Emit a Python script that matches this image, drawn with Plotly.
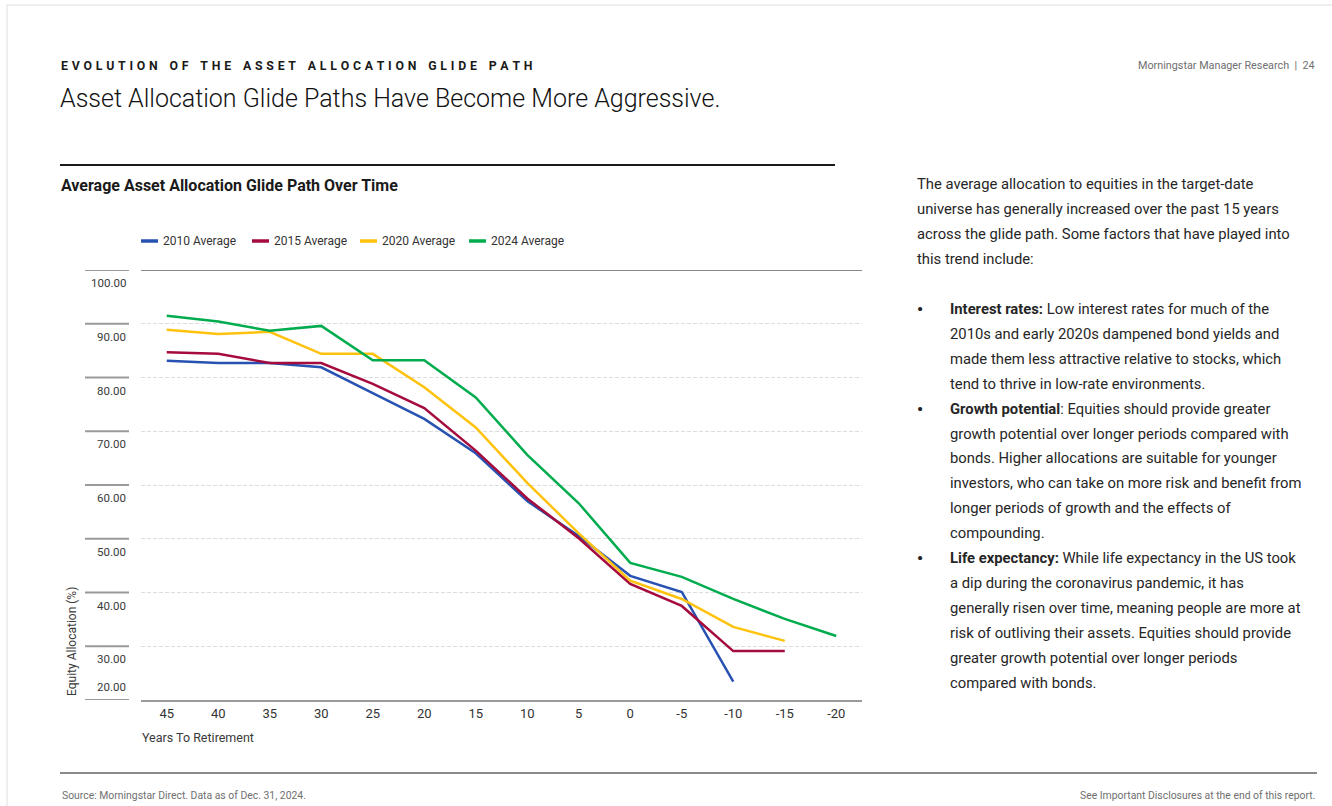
import plotly.graph_objects as go

W, H = 1332, 806

# ---- data -------------------------------------------------------------
YEARS_TO_RETIREMENT = ["45", "40", "35", "30", "25", "20", "15", "10",
                       "5", "0", "-5", "-10", "-15", "-20"]

AVG_2010 = [83.1, 82.7, 82.7, 81.9, 77.1, 72.3, 65.9, 57.0, 50.5, 43.1, 40.1, 23.4]
AVG_2015 = [84.7, 84.4, 82.7, 82.7, 78.8, 74.3, 66.4, 57.5, 50.1, 41.6, 37.5, 29.1, 29.1]
AVG_2020 = [88.9, 88.1, 88.5, 84.4, 84.4, 78.2, 70.7, 60.4, 51.0, 42.2, 38.8, 33.6, 31.0]
AVG_2024 = [91.5, 90.4, 88.7, 89.6, 83.2, 83.2, 76.3, 65.6, 56.6, 45.5, 42.9, 38.8, 35.1, 31.9]

SERIES_NAMES = ["2010 Average", "2015 Average", "2020 Average", "2024 Average"]
SERIES_VALUES = [AVG_2010, AVG_2015, AVG_2020, AVG_2024]
SERIES_COLORS = ["#2852B2", "#A50B3C", "#FFC20E", "#00AC4E"]

Y_TICKS = [20, 30, 40, 50, 60, 70, 80, 90, 100]

FONT = "Roboto, sans-serif"


def px(x):
    return x / W


def py(y):
    return 1 - y / H


fig = go.Figure()
for name, vals, color in zip(SERIES_NAMES, SERIES_VALUES, SERIES_COLORS):
    fig.add_trace(go.Scatter(
        x=YEARS_TO_RETIREMENT[:len(vals)], y=vals, name=name, mode="lines",
        line=dict(color=color, width=2.5), showlegend=False,
    ))

shapes = []
ann = []


def text(x, y, s, size, color="#222", xanchor="left", yanchor="middle", weight=None, **kw):
    font = dict(family=FONT, size=size, color=color)
    if weight:
        font["weight"] = weight
    ann.append(dict(xref="paper", yref="paper", x=px(x), y=py(y), text=s, showarrow=False,
                    xanchor=xanchor, yanchor=yanchor, font=font, **kw))


# solid line at the top of the value range
shapes.append(dict(type="line", xref="x domain", x0=0, x1=1, yref="y", y0=100, y1=100,
                   line=dict(color="#8a8a8a", width=2)))
# short tick stubs beside the value labels
for v in Y_TICKS:
    shapes.append(dict(type="line", xref="paper", x0=px(85), x1=px(129), yref="y", y0=v, y1=v,
                       line=dict(color="#9a9a9a", width=2)))
# page frame
shapes.append(dict(type="line", xref="paper", yref="paper", x0=px(7), x1=1, y0=py(5), y1=py(5),
                   line=dict(color="#dedede", width=1)))
shapes.append(dict(type="line", xref="paper", yref="paper", x0=px(7), x1=px(7), y0=0, y1=py(5),
                   line=dict(color="#dedede", width=1)))
# rule above the chart title and footer rule
shapes.append(dict(type="line", xref="paper", yref="paper", x0=px(60), x1=px(835), y0=py(165), y1=py(165),
                   line=dict(color="#1a1a1a", width=2)))
shapes.append(dict(type="line", xref="paper", yref="paper", x0=px(60), x1=px(1317), y0=py(773), y1=py(773),
                   line=dict(color="#8a8a8a", width=2)))

# compact legend: short colour swatch followed by the series name
LEGEND_X = [141, 252, 360, 469]
for lx, name, color in zip(LEGEND_X, SERIES_NAMES, SERIES_COLORS):
    shapes.append(dict(type="line", xref="paper", yref="paper", x0=px(lx), x1=px(lx + 17),
                       y0=py(241), y1=py(241), line=dict(color=color, width=3.5)))
    text(lx + 20, 241, name, 12, "#333")

# value labels sit just inside each band
for v in Y_TICKS:
    ann.append(dict(xref="paper", yref="y", x=px(128), y=(v + 2.5 if v == 20 else v - 2.45),
                    text=f"{v:.2f}", showarrow=False, xanchor="right", yanchor="middle",
                    font=dict(family=FONT, size=11.5, color="#3a3a3a")))

# axis titles
ann.append(dict(xref="paper", yref="paper", x=px(72), y=py(642), text="Equity Allocation (%)",
                textangle=-90, showarrow=False, xanchor="center", yanchor="middle",
                font=dict(family=FONT, size=12, color="#3a3a3a")))
text(140, 737, "Years To Retirement", 12.5, "#3a3a3a")

# page header
eyebrow = "EVOLUTION OF THE ASSET ALLOCATION GLIDE PATH"
gap = "\u2009\u200a"
spaced = (" " + gap).join(gap.join(w) for w in eyebrow.split(" "))
spaced = spaced.replace(" ", "\u2009 \u2009")
text(59, 66, f"<b>{spaced}</b>", 12.3, "#1a1a1a")
text(58, 98, "Asset Allocation Glide Paths Have Become More Aggressive.", 25, "#111", weight=300)
text(1317, 65, "Morningstar Manager Research  |  24", 10.8, "#6f6f6f", xanchor="right")

# chart title
text(59, 185, "<b>Average Asset Allocation Glide Path Over Time</b>", 16, "#1a1a1a")

# commentary column
BODY = [
    (None, "The average allocation to equities in the target-date"),
    (None, "universe has generally increased over the past 15 years"),
    (None, "across the glide path. Some factors that have played into"),
    (None, "this trend include:"),
    (None, ""),
    ("•", "<b>Interest rates:</b> Low interest rates for much of the"),
    (None, "2010s and early 2020s dampened bond yields and"),
    (None, "made them less attractive relative to stocks, which"),
    (None, "tend to thrive in low-rate environments."),
    ("•", "<b>Growth potential</b>: Equities should provide greater"),
    (None, "growth potential over longer periods compared with"),
    (None, "bonds. Higher allocations are suitable for younger"),
    (None, "investors, who can take on more risk and benefit from"),
    (None, "longer periods of growth and the effects of"),
    (None, "compounding."),
    ("•", "<b>Life expectancy:</b> While life expectancy in the US took"),
    (None, "a dip during the coronavirus pandemic, it has"),
    (None, "generally risen over time, meaning people are more at"),
    (None, "risk of outliving their assets. Equities should provide"),
    (None, "greater growth potential over longer periods"),
    (None, "compared with bonds."),
]
y0 = 184
in_list = False
for i, (bullet, line) in enumerate(BODY):
    y = y0 + i * 24.95
    if bullet:
        in_list = True
        text(915, y, "<b>•</b>", 17, "#222")
    if line:
        text(948 if in_list else 915, y, line, 14.8, "#262626")

# footer
text(60, 795, "Source: Morningstar Direct. Data as of Dec. 31, 2024.", 10.4, "#6f6f6f")
text(1317, 795, "See Important Disclosures at the end of this report.", 10.4, "#6f6f6f", xanchor="right")

fig.update_layout(
    width=W, height=H, autosize=False,
    margin=dict(l=0, r=0, t=0, b=0),
    paper_bgcolor="white", plot_bgcolor="white",
    font=dict(family=FONT, size=13, color="#333"),
    showlegend=False,
    xaxis=dict(domain=[px(141), px(862)], type="category", range=[-0.5, 13.5],
               showline=True, linecolor="#9a9a9a", linewidth=2, ticks="",
               showgrid=False, zeroline=False, tickfont=dict(size=13, color="#333"),
               fixedrange=True),
    yaxis=dict(domain=[py(700), py(270)], range=[20, 100], tickvals=Y_TICKS[1:-1],
               showticklabels=False, showgrid=True, gridcolor="#dcdcdc", gridwidth=1,
               griddash="4px,2px", zeroline=False, showline=False, ticks="",
               fixedrange=True),
    shapes=shapes,
    annotations=ann,
)

fig.write_html("out.html")
